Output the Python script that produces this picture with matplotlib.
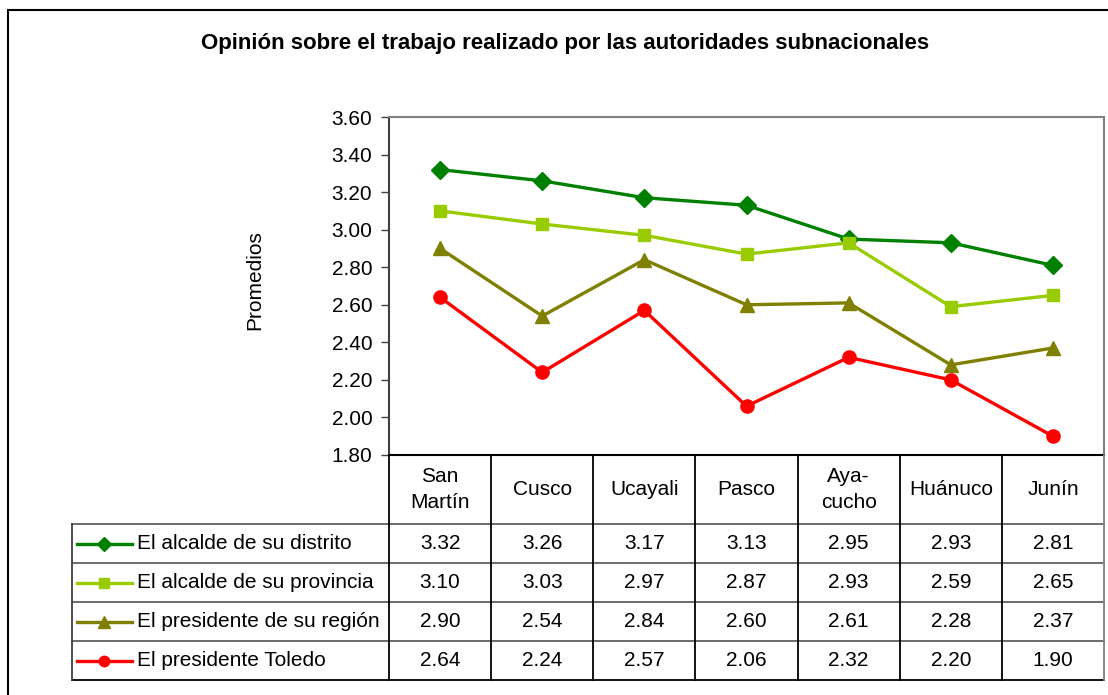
import matplotlib
matplotlib.use("Agg")
import matplotlib.pyplot as plt
import matplotlib.transforms as mtransforms
from matplotlib.lines import Line2D
from matplotlib.patches import Rectangle

plt.rcParams['font.family'] = ['Liberation Sans', 'DejaVu Sans']

regiones = ["San\nMartín", "Cusco", "Ucayali", "Pasco", "Aya-\ncucho", "Huánuco", "Junín"]
series = ["El alcalde de su distrito", "El alcalde de su provincia",
          "El presidente de su región", "El presidente Toledo"]
distrito = [3.32, 3.26, 3.17, 3.13, 2.95, 2.93, 2.81]
provincia = [3.10, 3.03, 2.97, 2.87, 2.93, 2.59, 2.65]
region = [2.90, 2.54, 2.84, 2.60, 2.61, 2.28, 2.37]
toledo = [2.64, 2.24, 2.57, 2.06, 2.32, 2.20, 1.90]
yticks = [1.80, 2.00, 2.20, 2.40, 2.60, 2.80, 3.00, 3.20, 3.40, 3.60]

colores = ["#008000", "#99CC00", "#808000", "#FF0000"]
marcadores = ["D", "s", "^", "o"]
tam = [9, 9, 10, 9.5]
valores = [distrito, provincia, region, toledo]

W, H = 1108, 695
FS = 15
fig = plt.figure(figsize=(W / 100, H / 100), dpi=100)

def px(x0, y0, x1, y1):
    return [x0 / W, 1 - y1 / H, (x1 - x0) / W, (y1 - y0) / H]

# outer chart border
fig.patches.append(Rectangle((8 / W, -0.1), 1.2, 1 - 10 / H + 0.1, transform=fig.transFigure,
                             fill=False, edgecolor="black", linewidth=1.5))

ax = fig.add_axes(px(389, 117, 1104, 455))
x = list(range(len(regiones)))
for vals, c, m, s in zip(valores, colores, marcadores, tam):
    ax.plot(x, vals, color=c, marker=m, markersize=s, linewidth=2.4, clip_on=False, zorder=3)
ax.set_xlim(-0.5, len(regiones) - 0.5)
ax.set_ylim(1.80, 3.60)
ax.set_yticks(yticks)
ax.set_yticklabels([f"{v:.2f}" for v in yticks], fontsize=FS)
ax.set_xticks([])
ax.tick_params(axis="y", direction="out", length=6, width=1, color="#404040", pad=6)
ax.spines["top"].set_color("#808080")
ax.spines["right"].set_color("#808080")
ax.spines["left"].set_color("#404040")
ax.spines["bottom"].set_color("black")
for sp in ax.spines.values():
    sp.set_linewidth(1.5)

fig.text(565 / W, 1 - 43 / H, "Opinión sobre el trabajo realizado por las autoridades subnacionales",
         ha="center", va="center", fontsize=16, fontweight="bold")
fig.text(255 / W, 1 - 280 / H, "Promedios", rotation=90, ha="center", va="center", fontsize=FS)

# data table below the plot
tab = fig.add_axes(px(72, 455, 1104, 680))
tab.set_xlim(0, 1032)
tab.set_ylim(225, 0)
tab.axis("off")
bt = mtransforms.blended_transform_factory(ax.transData, tab.transData)

filas = [0, 69, 108, 147, 186, 225]
for y in filas[1:]:
    col = "black" if y == 225 else "#606060"
    tab.plot([0, 1032], [y, y], color=col, linewidth=1.3, clip_on=False)
tab.plot([0, 0], [69, 225], color="#404040", linewidth=1.3, clip_on=False)
for k in range(len(regiones) + 1):
    c = "#808080" if k == len(regiones) else "black"
    tab.plot([k - 0.5, k - 0.5], [0, 225], color=c, linewidth=1.3, transform=bt, clip_on=False)

for k, nombre in enumerate(regiones):
    tab.text(k, 34.5, nombre, transform=bt, ha="center", va="center", fontsize=FS, linespacing=1.4)

for i, (nombre, vals, c, m) in enumerate(zip(series, valores, colores, marcadores)):
    yc = (filas[i + 1] + filas[i + 2]) / 2
    tab.add_line(Line2D([5, 60], [yc, yc], color=c, linewidth=2.4))
    tab.add_line(Line2D([32], [yc], color=c, marker=m, markersize=7.5 if m != "^" else 8.5))
    tab.text(65, yc, nombre, ha="left", va="center", fontsize=FS)
    for k, v in enumerate(vals):
        tab.text(k, yc, f"{v:.2f}", transform=bt, ha="center", va="center", fontsize=FS)

fig.savefig("out.png", dpi=100)
